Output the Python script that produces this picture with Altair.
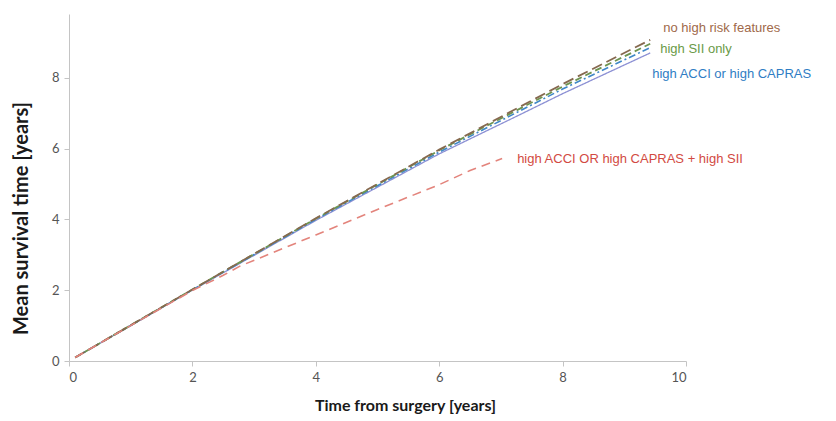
import altair as alt
import pandas as pd

# Series
series_names = ["overall", "high ACCI or high CAPRAS", "high SII only",
                "no high risk features", "high ACCI OR high CAPRAS + high SII"]

x_overall = [0.1, 2, 4, 6, 7.3, 8, 9.42]
y_overall = [0.1, 2.0, 3.97, 5.85, 6.95, 7.55, 8.70]

x_acci = [0.1, 2, 4, 6, 8, 9.42]
y_acci = [0.1, 2.01, 4.0, 5.9, 7.68, 8.85]

x_sii = [0.1, 2, 4, 6, 8, 9.42]
y_sii = [0.1, 2.02, 4.02, 5.95, 7.75, 8.96]

x_none = [0.1, 2, 4, 6, 8, 9.42]
y_none = [0.1, 2.02, 4.03, 5.97, 7.82, 9.07]

x_combo = [0.1, 1, 2, 2.5, 2.77, 3.5, 4, 5, 6, 6.5, 7.02]
y_combo = [0.1, 1.0, 1.99, 2.42, 2.68, 3.2, 3.56, 4.28, 4.98, 5.38, 5.72]

xs = [x_overall, x_acci, x_sii, x_none, x_combo]
ys = [y_overall, y_acci, y_sii, y_none, y_combo]

line_colors = ["#8c90d4", "#3f87c8", "#6e9450", "#86694f", "#e3847c"]
dashes = [[1, 0], [7, 3, 2, 3], [7, 4], [11, 5], [9, 6]]
widths = [1.3, 1.6, 1.8, 1.8, 1.6]

x_ticks = [0, 2, 4, 6, 8, 10]
y_ticks = [0, 2, 4, 6, 8]

rows = []
for i, name in enumerate(series_names):
    for xv, yv in zip(xs[i], ys[i]):
        rows.append({"series": name, "order": i, "x": xv, "y": yv})
df = pd.DataFrame(rows)

x_scale = alt.Scale(domain=[0, 10], nice=False)
y_scale = alt.Scale(domain=[0, 9.8], nice=False)

layers = []
for i, name in enumerate(series_names):
    sub = df[df.series == name]
    layers.append(
        alt.Chart(sub).mark_line(
            color=line_colors[i], strokeDash=dashes[i], strokeWidth=widths[i]
        ).encode(
            x=alt.X("x:Q", scale=x_scale,
                    axis=alt.Axis(values=x_ticks, format="d",
                                  title="Time from surgery [years]",
                                  titleFontSize=16,
                                  titleX=336, titleY=44, titleBaseline="middle",
                                  titleAnchor="start", titleAlign="center")),
            y=alt.Y("y:Q", scale=y_scale,
                    axis=alt.Axis(values=y_ticks, format="d",
                                  title="Mean survival time [years]",
                                  titleFontSize=20,
                                  titleX=-48, titleY=204, titleBaseline="middle",
                                  titleAlign="center")),
            order="x:Q",
        )
    )

# Labels placed at the end of each series
label_specs = [
    ("no high risk features", "no high risk features", "#a0694a", 13, -12),
    ("high SII only", "high SII only", "#6a9a48", 10, 5),
    ("high ACCI or high CAPRAS", "high ACCI or high CAPRAS", "#2f7dc4", 2, 26),
    ("high ACCI OR high CAPRAS + high SII", "high ACCI OR high CAPRAS + high SII", "#d24a42", 15, 1),
]
for series, text, col, dx, dy in label_specs:
    idx = series_names.index(series)
    end = pd.DataFrame({"x": [xs[idx][-1]], "y": [ys[idx][-1]], "label": [text]})
    layers.append(
        alt.Chart(end).mark_text(
            align="left", baseline="middle", dx=dx, dy=dy, color=col,
            font="Liberation Sans", fontSize=13
        ).encode(
            x=alt.X("x:Q", scale=x_scale),
            y=alt.Y("y:Q", scale=y_scale),
            text="label:N",
        )
    )

chart = alt.layer(*layers).properties(
    width=617, height=347,
    autosize=alt.AutoSizeParams(type="none"),
    padding={"left": 61, "top": 6, "right": 142, "bottom": 56},
).configure_view(stroke=None).configure_axis(
    grid=False,
    domainColor="#c4c4c4",
    tickColor="#c4c4c4",
    tickSize=5,
    labelColor="#555555",
    labelFont="Lato",
    labelFontSize=13,
    labelPadding=5,
    titleFont="Lato",
    titleFontWeight="bold",
    titleColor="#1a1a1a",
)

chart.save("out.html", embed_options={"renderer": "svg", "actions": False})
